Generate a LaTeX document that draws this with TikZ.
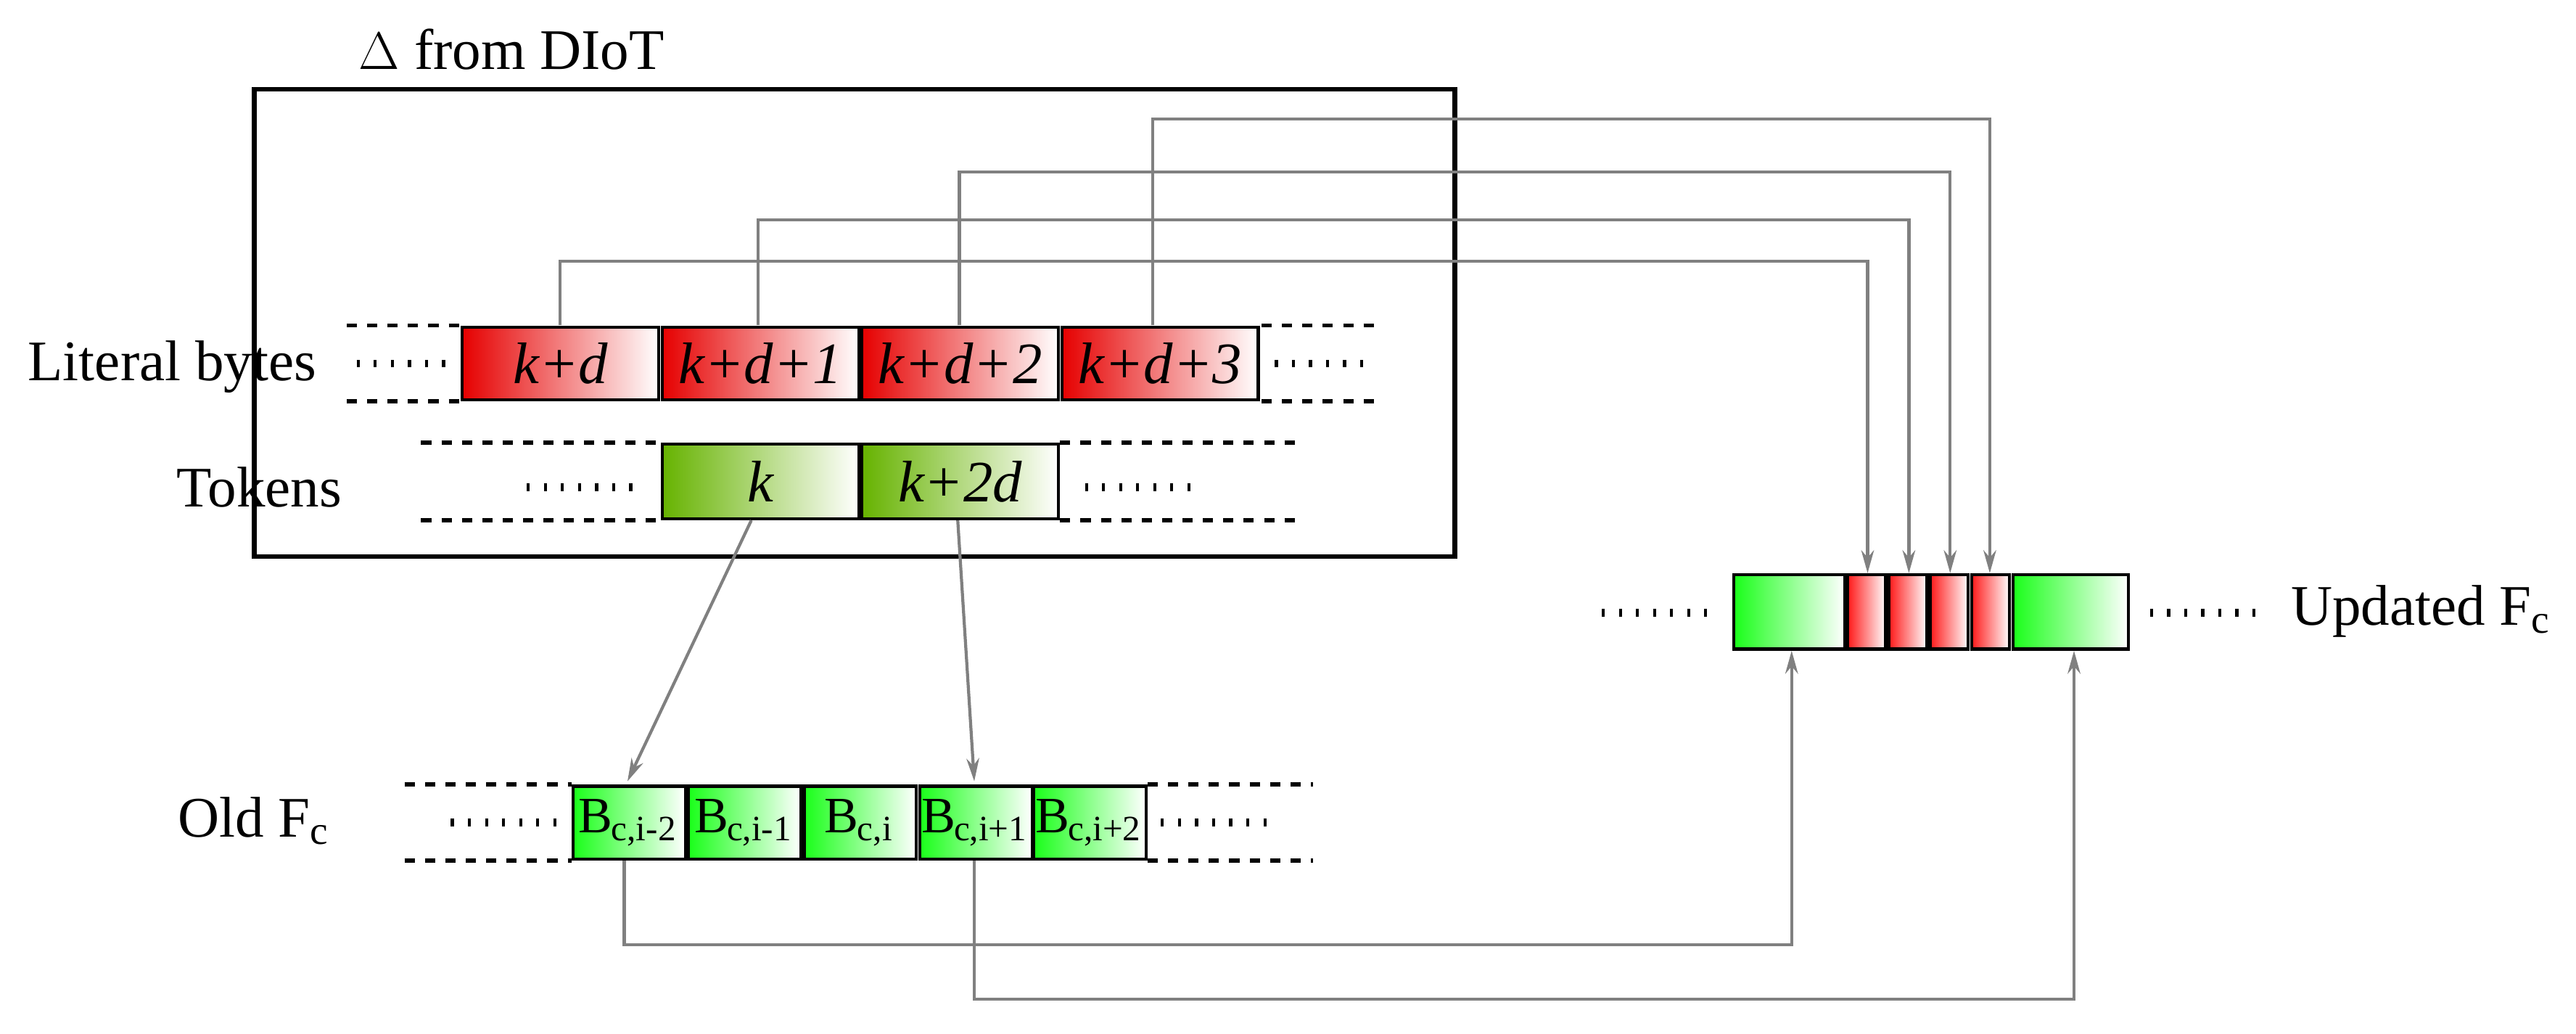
\documentclass[tikz,border=0pt]{standalone}
\usepackage{fontspec}
\setmainfont{Liberation Serif}
\usetikzlibrary{arrows.meta}
\begin{document}
\begin{tikzpicture}[x=0.02276cm,y=-0.02276cm,
  lbl/.style={font=\fontsize{22.5}{27}\selectfont},
  cell/.style={draw=black,line width=1.2pt,inner sep=0,outer sep=0,font=\fontsize{23}{28}\selectfont\itshape},
  red/.style={cell,left color=red!90!black!100,right color=white},
  olive/.style={cell,left color=green!50!black!60!yellow,right color=white},
  grn/.style={cell,left color=green!90,right color=white,font=\fontsize{20}{24}\selectfont},
  dsh/.style={line width=1.6pt,dash pattern=on 4pt off 4pt},
  dts/.style={line width=3pt,dash pattern=on 1.2pt off 5.5pt},
  con/.style={draw=gray,line width=1.2pt},
  arr/.style={con,-{Stealth[length=9pt,width=5pt]}}]
\useasboundingbox (0,0) rectangle (1560,626);
\node[draw=black,line width=1.8pt,minimum width=727*0.02276cm,minimum height=283*0.02276cm,inner sep=0] (delta) at (517.5,195.5) {};
\node[lbl,anchor=west] (dl) at (212,30) {$\Delta$ from DIoT};
% literal bytes
\foreach \n/\x/\t in {l0/279/k+d,l1/400/k+d+1,l2/521/k+d+2,l3/642/k+d+3}{
  \node[red,minimum width=119*0.02276cm,minimum height=44*0.02276cm,anchor=north west] (\n) at (\x+1,198) {\t};}
\draw[dsh] (210,197) -- (279,197) (210,243) -- (279,243) (764,197) -- (832,197) (764,243) -- (832,243);
\draw[dts] (216,220) -- (272,220) (772,220) -- (832,220);
\node[lbl,anchor=east] (lb) at (197,222) {Literal bytes};
% tokens
\node[olive,minimum width=119*0.02276cm,minimum height=45*0.02276cm,anchor=north west] (t0) at (401,269) {k};
\node[olive,minimum width=119*0.02276cm,minimum height=45*0.02276cm,anchor=north west] (t1) at (522,269) {k+2d};
\draw[dsh] (255,268) -- (400,268) (255,315) -- (400,315) (642,268) -- (790,268) (642,315) -- (790,315);
\draw[dts] (319,295) -- (385,295) (657,295) -- (722,295);
\node[lbl] (tk) at (157,295) {Tokens};
% old Fc
\foreach \n/\x/\t in {o0/346/{i-2},o1/416/{i-1},o2/486/{i},o3/556/{i+1},o4/625/{i+2}}{
  \node[grn,minimum width=68*0.02276cm,minimum height=44*0.02276cm,anchor=north west] (\n) at (\x+1,476) {\kern-1pt B\kern-0.5pt\textsubscript{c,\t}};}
\draw[dsh] (245,475) -- (346,475) (245,521) -- (346,521) (695,475) -- (795,475) (695,521) -- (795,521);
\draw[dts] (273,498) -- (340,498) (703,498) -- (770,498);
\node[lbl,anchor=east] (of) at (205,497) {Old F\textsubscript{c}};
% updated Fc
\node[grn,minimum width=67*0.02276cm,minimum height=45*0.02276cm,anchor=north west] (u0) at (1050,348) {};
\foreach \n/\x in {r0/1118,r1/1143,r2/1168,r3/1193}{
  \node[cell,left color=red!90,right color=white,minimum width=23*0.02276cm,minimum height=45*0.02276cm,anchor=north west] (\n) at (\x+1,348) {};}
\node[grn,minimum width=70*0.02276cm,minimum height=45*0.02276cm,anchor=north west] (u1) at (1219,348) {};
\draw[dts] (970,371) -- (1035,371) (1302,371) -- (1370,371);
\node[lbl,anchor=west] (uf) at (1382,370) {Updated F\textsubscript{c}};
% connectors
\coordinate (a0) at (339,158); \coordinate (b0) at (1131,158);
\coordinate (a1) at (459,133); \coordinate (b1) at (1156,133);
\coordinate (a2) at (581,104); \coordinate (b2) at (1181,104);
\coordinate (a3) at (698,72);  \coordinate (b3) at (1205,72);
\draw[arr] (339,197) -- (a0) -- (b0) -- (1131,347);
\draw[arr] (459,197) -- (a1) -- (b1) -- (1156,347);
\draw[arr] (581,197) -- (a2) -- (b2) -- (1181,347);
\draw[arr] (698,197) -- (a3) -- (b3) -- (1205,347);
\draw[arr] (455,315) -- (380,473);
\draw[arr] (580,315) -- (590,473);
\coordinate (c0) at (378,572); \coordinate (d0) at (1085,572);
\coordinate (c1) at (590,605); \coordinate (d1) at (1256,605);
\draw[arr] (378,521) -- (c0) -- (d0) -- (1085,394);
\draw[arr] (590,521) -- (c1) -- (d1) -- (1256,394);
\end{tikzpicture}
\end{document}
